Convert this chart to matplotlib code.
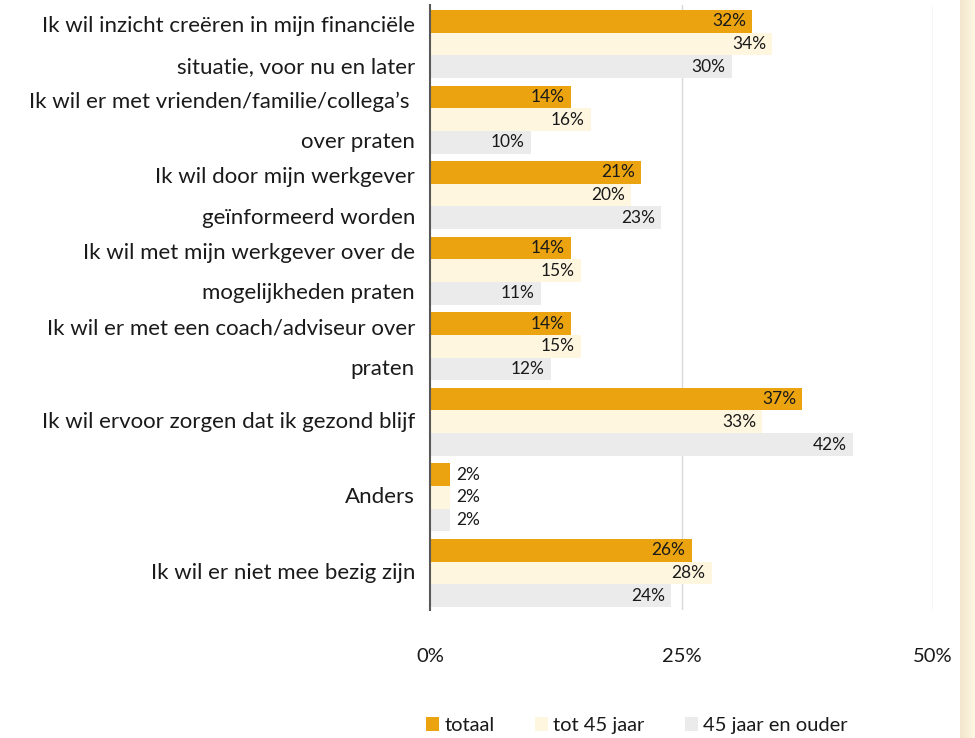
import numpy as np
import matplotlib
matplotlib.use("Agg")
import matplotlib.pyplot as plt
from matplotlib.patches import Patch
from matplotlib.colors import LinearSegmentedColormap

plt.rcParams['font.family'] = ['Lato', 'DejaVu Sans']

# antwoordcategorieen (regels zoals in het origineel afgebroken)
categories = [
    "Ik wil inzicht creëren in mijn financiële\nsituatie, voor nu en later",
    "Ik wil er met vrienden/familie/collega’s \nover praten",
    "Ik wil door mijn werkgever\ngeïnformeerd worden",
    "Ik wil met mijn werkgever over de\nmogelijkheden praten",
    "Ik wil er met een coach/adviseur over\npraten",
    "Ik wil ervoor zorgen dat ik gezond blijf",
    "Anders",
    "Ik wil er niet mee bezig zijn",
]
series_names = ["totaal", "tot 45 jaar", "45 jaar en ouder"]
totaal = [32, 14, 21, 14, 14, 37, 2, 26]
tot45 = [34, 16, 20, 15, 15, 33, 2, 28]
ouder45 = [30, 10, 23, 11, 12, 42, 2, 24]
xticks = [0, 25, 50]

colors = ["#EBA40F", "#FFF6E0", "#EBEBEB"]
txt = "#1a1a1a"

fig = plt.figure(figsize=(9.75, 7.38), dpi=100)
ax = fig.add_axes([430 / 975, 1 - 610 / 738, (933 - 430) / 975, 605 / 738])

y = np.arange(len(categories))
h = 0.3
for k, (vals, col) in enumerate(zip([totaal, tot45, ouder45], colors)):
    pos = y + (k - 1) * h
    ax.barh(pos, vals, height=h, color=col, zorder=2)
    for p, v in zip(pos, vals):
        if v < 5:
            ax.text(v + 0.6, p, f"{v}%", ha="left", va="center",
                    fontsize=12.5, color=txt, zorder=3)
        else:
            ax.text(v - 0.6, p, f"{v}%", ha="right", va="center",
                    fontsize=12.5, color=txt, zorder=3)

ax.set_xlim(0, 50)
ax.set_ylim(7.49, -0.516)
ax.set_xticks(xticks)
ax.set_xticklabels([f"{t}%" for t in xticks], fontsize=14.5, color=txt)
ax.tick_params(axis="x", length=0, pad=27)
ax.set_yticks([])
for t in xticks[1:]:
    ax.axvline(t, color="#D9D9D9", lw=1, zorder=1)
for s in ["top", "right", "bottom"]:
    ax.spines[s].set_visible(False)
ax.spines["left"].set_color("#595959")
ax.spines["left"].set_linewidth(1.5)
ax.spines["left"].set_zorder(4)

# categorie labels links, twee regels ver uit elkaar
for i, lab in enumerate(categories):
    lines = lab.split("\n")
    if len(lines) == 1:
        offs = [0.0]
    else:
        offs = [-0.24, 0.30]
    for line, o in zip(lines, offs):
        ax.text(-15 / 10.06, i + o, line, ha="right", va="center",
                fontsize=16, color=txt)

handles = [Patch(facecolor=c, edgecolor="none") for c in colors]
fig.legend(handles, series_names, loc="center", bbox_to_anchor=(0.653, 0.017),
           ncol=3, frameon=False, fontsize=14.5, handlelength=0.65,
           handleheight=0.65, handletextpad=0.25, columnspacing=2.0,
           labelcolor=txt)

# creme rand rechts
strip = fig.add_axes([960 / 975, 0, 15 / 975, 1])
grad = np.linspace(0, 1, 50).reshape(1, -1)
cm = LinearSegmentedColormap.from_list("rand", ["#F1E6CC", "#FFF7E3"])
strip.imshow(grad, aspect="auto", cmap=cm)
strip.axis("off")

fig.savefig("out.png", dpi=100)
